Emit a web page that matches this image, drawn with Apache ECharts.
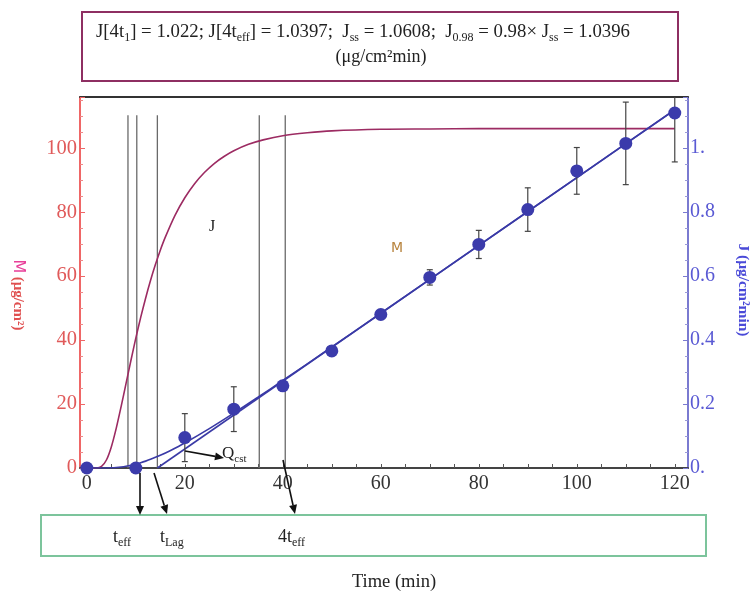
<!DOCTYPE html>
<html><head><meta charset="utf-8">
<script src="https://cdn.jsdelivr.net/npm/echarts@6/dist/echarts.min.js"></script>
<style>html,body{margin:0;padding:0;background:#fff}#c{width:756px;height:591px}</style>
</head><body><div id="c"></div>
<script>
// ---- data ----
const timeData = [0, 10, 20, 30, 40, 50, 60, 70, 80, 90, 100, 110, 120];
const mData    = [0, 0, 9.5, 18.4, 25.7, 36.6, 48.0, 59.6, 69.9, 80.8, 92.9, 101.5, 111.0];
const mErr     = [0, 0, 7.5, 7.0, 1.0, 0.5, 0.8, 2.4, 4.4, 6.8, 7.3, 12.9, 15.3];

const jCurveTime = [0, 2, 3, 4, 5, 6, 7, 8, 9, 10, 11, 12, 13, 14, 15, 16, 18, 20, 22, 24, 26, 28, 30, 33, 36, 40, 45, 50, 60, 70, 80, 100, 120];
const jCurve     = [0, 0.0002, 0.005, 0.025, 0.066, 0.124, 0.192, 0.264, 0.336, 0.406, 0.471, 0.531, 0.586, 0.636, 0.681, 0.721, 0.790, 0.845, 0.889, 0.924, 0.952, 0.974, 0.992, 1.012, 1.026, 1.039, 1.048, 1.054, 1.059, 1.060, 1.061, 1.061, 1.061];

const mCurveTime = [0, 2, 3, 4, 5, 6, 7, 8, 9, 10, 11, 12, 13, 15, 17, 20, 25, 30, 35, 40, 50, 60, 80, 100, 120];
const mCurve     = [0, 0, 0.002, 0.016, 0.057, 0.153, 0.310, 0.539, 0.839, 1.211, 1.650, 2.150, 2.709, 3.978, 5.420, 7.831, 12.313, 17.152, 22.19, 27.35, 37.83, 48.39, 69.59, 90.80, 112.02];

const lagLineTime = [14.4, 120];
const lagLineM    = [0, 112.0];

const markerTimes = [8.4, 10.2, 14.4, 35.2, 40.5];
const markerTop = 110.3;

const xTickLabels = [0, 20, 40, 60, 80, 100, 120];
const xTickMarks  = [0, 5, 10, 15, 20, 25, 30, 35, 40, 45, 50, 55, 60, 65, 70, 75, 80, 85, 90, 95, 100, 105, 110, 115, 120];

// ---- chart ----
const SERIF = "'Liberation Serif', 'DejaVu Serif', serif";
const chart = echarts.init(document.getElementById('c'), null, {renderer: 'canvas'});

function arrow(x1, y1, x2, y2) {
  const a = Math.atan2(y2 - y1, x2 - x1);
  const L = 9, W = 4;
  const c = Math.cos(a), s = Math.sin(a);
  const bx = x2 - L * c, by = y2 - L * s;
  return [
    {type: 'line', z: 100, shape: {x1: x1, y1: y1, x2: bx, y2: by}, style: {stroke: '#111', lineWidth: 1.6}},
    {type: 'polygon', z: 100, shape: {points: [[x2, y2], [bx + W * s, by - W * c], [bx - W * s, by + W * c]]}, style: {fill: '#111'}}
  ];
}

function richSet(big, small) {
  return {
    n: {fontFamily: SERIF, fontSize: big, fill: '#222', lineHeight: big + 5},
    s: {fontFamily: SERIF, fontSize: small, fill: '#222', lineHeight: small + 2, verticalAlign: 'bottom'}
  };
}

const graphics = [
  // top box
  {type: 'rect', z: 90, shape: {x: 82, y: 12, width: 596, height: 69}, style: {fill: 'none', stroke: '#8e2f62', lineWidth: 2}},
  {type: 'text', z: 91, x: 96, y: 32, style: {
    text: '{n|J[4t}{s|1}{n|] = 1.022; J[4t}{s|eff}{n|] = 1.0397;  J}{s|ss}{n| = 1.0608;  J}{s|0.98}{n| = 0.98× J}{s|ss}{n| = 1.0396}',
    rich: richSet(18.8, 12), align: 'left', verticalAlign: 'middle'}},
  {type: 'text', z: 91, x: 381, y: 57, style: {text: '(μg/cm²min)', fontFamily: SERIF, fontSize: 18, fill: '#222', align: 'center', verticalAlign: 'middle'}},
  // bottom box
  {type: 'rect', z: 90, shape: {x: 41, y: 515, width: 665, height: 41}, style: {fill: 'none', stroke: '#7cc49c', lineWidth: 2}},
  {type: 'text', z: 91, x: 113, y: 537, style: {text: '{n|t}{s|eff}', rich: richSet(18, 12), align: 'left', verticalAlign: 'middle'}},
  {type: 'text', z: 91, x: 160, y: 537, style: {text: '{n|t}{s|Lag}', rich: richSet(18, 12), align: 'left', verticalAlign: 'middle'}},
  {type: 'text', z: 91, x: 278, y: 537, style: {text: '{n|4t}{s|eff}', rich: richSet(18, 12), align: 'left', verticalAlign: 'middle'}},
  // annotations
  {type: 'text', z: 91, x: 212, y: 227, style: {text: 'J', fontFamily: SERIF, fontSize: 16, fill: '#222', align: 'center', verticalAlign: 'middle'}},
  {type: 'text', z: 91, x: 397, y: 248, style: {text: 'M', fontFamily: "'DejaVu Sans', sans-serif", fontSize: 14, fill: '#b8843e', align: 'center', verticalAlign: 'middle'}},
  {type: 'text', z: 91, x: 222, y: 454, style: {text: '{n|Q}{s|cst}', rich: richSet(17, 11), align: 'left', verticalAlign: 'middle'}},
  // axis names
  {type: 'text', z: 91, x: 18, y: 295, rotation: -Math.PI / 2, style: {
    text: '{m|M} {r|(μg/cm²)}', align: 'center', verticalAlign: 'middle',
    rich: {m: {fontFamily: "'DejaVu Sans', sans-serif", fontSize: 16, fill: '#e8409a'},
           r: {fontFamily: SERIF, fontSize: 15, fontWeight: 'bold', fill: '#e05050'}}}},
  {type: 'text', z: 91, x: 743, y: 290, rotation: -Math.PI / 2, style: {
    text: 'J (μg/cm²min)', fontFamily: SERIF, fontSize: 15.5, fontWeight: 'bold', fill: '#4a4ad8', align: 'center', verticalAlign: 'middle'}},
  {type: 'text', z: 91, x: 394, y: 582, style: {text: 'Time (min)', fontFamily: SERIF, fontSize: 18.5, fill: '#222', align: 'center', verticalAlign: 'middle'}}
]
  .concat(arrow(185, 451, 224, 458))
  .concat(arrow(140, 473, 140, 515))
  .concat(arrow(154, 473, 167, 514))
  .concat(arrow(283, 460, 295, 514));

const option = {
  backgroundColor: '#fff',
  animation: false,
  grid: {left: 80, right: 68, top: 97, bottom: 123, containLabel: false},
  xAxis: [{
    type: 'value', min: -1.39, max: 122.7, position: 'bottom',
    axisLine: {show: true, onZero: false, lineStyle: {color: '#444', width: 2}},
    axisTick: {show: true, inside: true, length: 4, customValues: xTickMarks, lineStyle: {color: '#555'}},
    axisLabel: {customValues: xTickLabels, fontFamily: SERIF, fontSize: 20, color: '#333', margin: 6},
    splitLine: {show: false}
  }, {
    type: 'value', min: -1.39, max: 122.7, position: 'top',
    axisLine: {show: true, onZero: false, lineStyle: {color: '#333', width: 2}},
    axisTick: {show: false}, axisLabel: {show: false}, splitLine: {show: false}
  }],
  yAxis: [{
    type: 'value', min: 0, max: 116, interval: 20, position: 'left',
    axisLine: {show: true, onZero: false, lineStyle: {color: '#ef6666', width: 2}},
    axisTick: {show: true, inside: true, length: 5, lineStyle: {color: '#ef6666'}},
    minorTick: {show: true, splitNumber: 4, length: 3, lineStyle: {color: '#ef8888'}},
    axisLabel: {fontFamily: SERIF, fontSize: 20.5, color: '#e05a5a', margin: 3, showMaxLabel: false},
    splitLine: {show: false}
  }, {
    type: 'value', min: 0, max: 1.16, interval: 0.2, position: 'right',
    axisLine: {show: true, onZero: false, lineStyle: {color: '#7a7ad0', width: 2}},
    axisTick: {show: true, inside: true, length: 5, lineStyle: {color: '#7a7ad0'}},
    minorTick: {show: true, splitNumber: 4, length: 3, lineStyle: {color: '#9a9ad8'}},
    axisLabel: {fontFamily: SERIF, fontSize: 20, color: '#5a5ad4', margin: 2, showMaxLabel: false,
      formatter: function (v) { return (Math.abs(v) < 1e-9) ? '0.' : (Math.abs(v - 1) < 1e-9 ? '1.' : String(+v.toFixed(1))); }},
    splitLine: {show: false}
  }],
  graphic: graphics,
  series: [
    {
      type: 'custom', name: 'markers', xAxisIndex: 0, yAxisIndex: 0, z: 1,
      data: markerTimes.map(function (t) { return [t, markerTop]; }),
      renderItem: function (params, api) {
        const t = api.value(0);
        const p0 = api.coord([t, 0]), p1 = api.coord([t, api.value(1)]);
        return {type: 'line', shape: {x1: p0[0], y1: p0[1], x2: p1[0], y2: p1[1]}, style: {stroke: '#6a6a6a', lineWidth: 1.3}};
      }
    },
    {
      type: 'line', name: 'J', xAxisIndex: 0, yAxisIndex: 1, z: 3, showSymbol: false, smooth: 0.3,
      data: jCurveTime.map(function (t, i) { return [t, jCurve[i]]; }),
      lineStyle: {color: '#9c2b62', width: 1.6}, itemStyle: {color: '#9c2b62'}
    },
    {
      type: 'line', name: 'M', xAxisIndex: 0, yAxisIndex: 0, z: 3, showSymbol: false, smooth: 0.3,
      data: mCurveTime.map(function (t, i) { return [t, mCurve[i]]; }),
      lineStyle: {color: '#3a3aa6', width: 1.6}, itemStyle: {color: '#3a3aa6'}
    },
    {
      type: 'line', name: 'lag', xAxisIndex: 0, yAxisIndex: 0, z: 3, showSymbol: false,
      data: lagLineTime.map(function (t, i) { return [t, lagLineM[i]]; }),
      lineStyle: {color: '#3a3aa6', width: 1.6}, itemStyle: {color: '#3a3aa6'}
    },
    {
      type: 'custom', name: 'err', xAxisIndex: 0, yAxisIndex: 0, z: 4, clip: true,
      data: timeData.map(function (t, i) { return [t, mData[i], mErr[i]]; }),
      renderItem: function (params, api) {
        const t = api.value(0), m = api.value(1), e = api.value(2);
        if (!(e > 0.9)) return null;
        const a = api.coord([t, m + e]), b = api.coord([t, m - e]);
        const w = 3;
        const st = {stroke: '#444', lineWidth: 1.2};
        return {type: 'group', children: [
          {type: 'line', shape: {x1: a[0], y1: a[1], x2: b[0], y2: b[1]}, style: st},
          {type: 'line', shape: {x1: a[0] - w, y1: a[1], x2: a[0] + w, y2: a[1]}, style: st},
          {type: 'line', shape: {x1: b[0] - w, y1: b[1], x2: b[0] + w, y2: b[1]}, style: st}
        ]};
      }
    },
    {
      type: 'scatter', name: 'data', xAxisIndex: 0, yAxisIndex: 0, z: 5, symbolSize: 13,
      data: timeData.map(function (t, i) { return [t, mData[i]]; }),
      itemStyle: {color: '#3b3bab', opacity: 1}
    }
  ]
};
chart.setOption(option);
</script>
</body></html>
